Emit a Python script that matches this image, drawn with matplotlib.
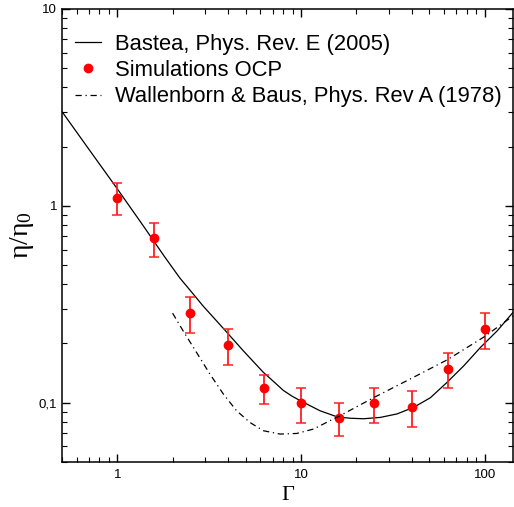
import numpy as np
import matplotlib
matplotlib.use('Agg')
import matplotlib.pyplot as plt

plt.rcParams['font.family'] = ['Liberation Sans', 'DejaVu Sans']
plt.rcParams['mathtext.fontset'] = 'custom'
plt.rcParams['mathtext.rm'] = 'Liberation Serif'
plt.rcParams['mathtext.it'] = 'Liberation Serif:italic'

# simulations OCP (value, lower and upper end of error bar)
gam_sim = [1.0, 1.58, 2.5, 4.0, 6.3, 10.0, 16.0, 25.0, 40.0, 63.0, 100.0]
eta_sim = [1.10, 0.685, 0.287, 0.196, 0.119, 0.100, 0.084, 0.100, 0.095, 0.148, 0.237]
eta_lo = [0.90, 0.547, 0.227, 0.156, 0.098, 0.0785, 0.068, 0.0785, 0.075, 0.119, 0.187]
eta_hi = [1.30, 0.82, 0.346, 0.236, 0.138, 0.119, 0.100, 0.119, 0.115, 0.179, 0.286]

# Bastea 2005 curve
gam_bas = [0.5, 0.7, 1.0, 1.4, 1.8, 2.19, 2.6, 2.93, 3.77, 4.84, 6.22, 7.1, 8.01, 9.0, 10.3, 12.7, 15.7,
           18.5, 21.9, 27.0, 33.3, 41.0, 50.6, 62.4, 76.9, 94.8, 117.0, 145.0]
eta_bas = [3.01, 1.94, 1.22, 0.78, 0.555, 0.43, 0.355, 0.31, 0.239, 0.184, 0.143, 0.128, 0.1155, 0.1075, 0.1005, 0.091, 0.0848,
           0.0834, 0.0829, 0.0842, 0.0877, 0.0947, 0.106, 0.127, 0.154, 0.191, 0.232, 0.293]

# Wallenborn & Baus 1978 curve
gam_wb = [2.0, 2.28, 2.70, 3.19, 3.77, 4.46, 5.27, 6.23, 7.69, 9.48, 11.7, 14.4, 16.3,
          24.8, 39.3, 62.4, 98.5, 145.0]
eta_wb = [0.285, 0.232, 0.180, 0.140, 0.111, 0.091, 0.0794, 0.0721, 0.0693, 0.0698, 0.0735, 0.0811, 0.0859,
          0.106, 0.132, 0.165, 0.215, 0.279]

fig = plt.figure(figsize=(5.14, 5.07), dpi=100)
ax = fig.add_axes([0.1206, 0.0888, 0.878, 0.8935])

ax.plot(gam_bas, eta_bas, 'k-', lw=0.9, label='Bastea, Phys. Rev. E (2005)')
yerr = [np.array(eta_sim) - np.array(eta_lo), np.array(eta_hi) - np.array(eta_sim)]
ax.errorbar(gam_sim, eta_sim, yerr=yerr, fmt='none', ecolor='#ff2020', elinewidth=1.3,
            capsize=3.5, capthick=1.1)
ax.plot(gam_sim, eta_sim, 'o', color='red', ms=6, label='Simulations OCP')
ax.plot(gam_wb, eta_wb, color='k', lw=0.9, dashes=(5, 3, 1, 3),
        label='Wallenborn & Baus, Phys. Rev A (1978)')

ax.set_xscale('log')
ax.set_yscale('log')
ax.set_xlim(0.5, 143)
ax.set_ylim(0.05, 10)
ax.set_xticks([1, 10, 100])
ax.set_xticklabels(['1', '10', '100'])
ax.set_yticks([0.1, 1, 10])
ax.set_yticklabels(['0,1', '1', '10'])
ax.tick_params(which='both', direction='in', top=True, right=True, labelsize=9.5)
ax.tick_params(which='major', length=6, width=1)
ax.tick_params(which='minor', length=3.5, width=0.8)
ax.tick_params(axis='x', pad=5)
for s in ax.spines.values():
    s.set_linewidth(1.1)

ax.set_xlabel(r'$\mathrm{\Gamma}$', fontsize=16, labelpad=2)
ax.set_ylabel(r'$\mathrm{\eta/\eta_0}$', fontsize=20, labelpad=2)

ax.legend(loc='upper left', bbox_to_anchor=(0.028, 0.945), frameon=False, fontsize=15.8,
          borderpad=0, borderaxespad=0, handlelength=1.2, handletextpad=0.65,
          labelspacing=0.24, numpoints=1)

plt.savefig('out.png', dpi=100)
